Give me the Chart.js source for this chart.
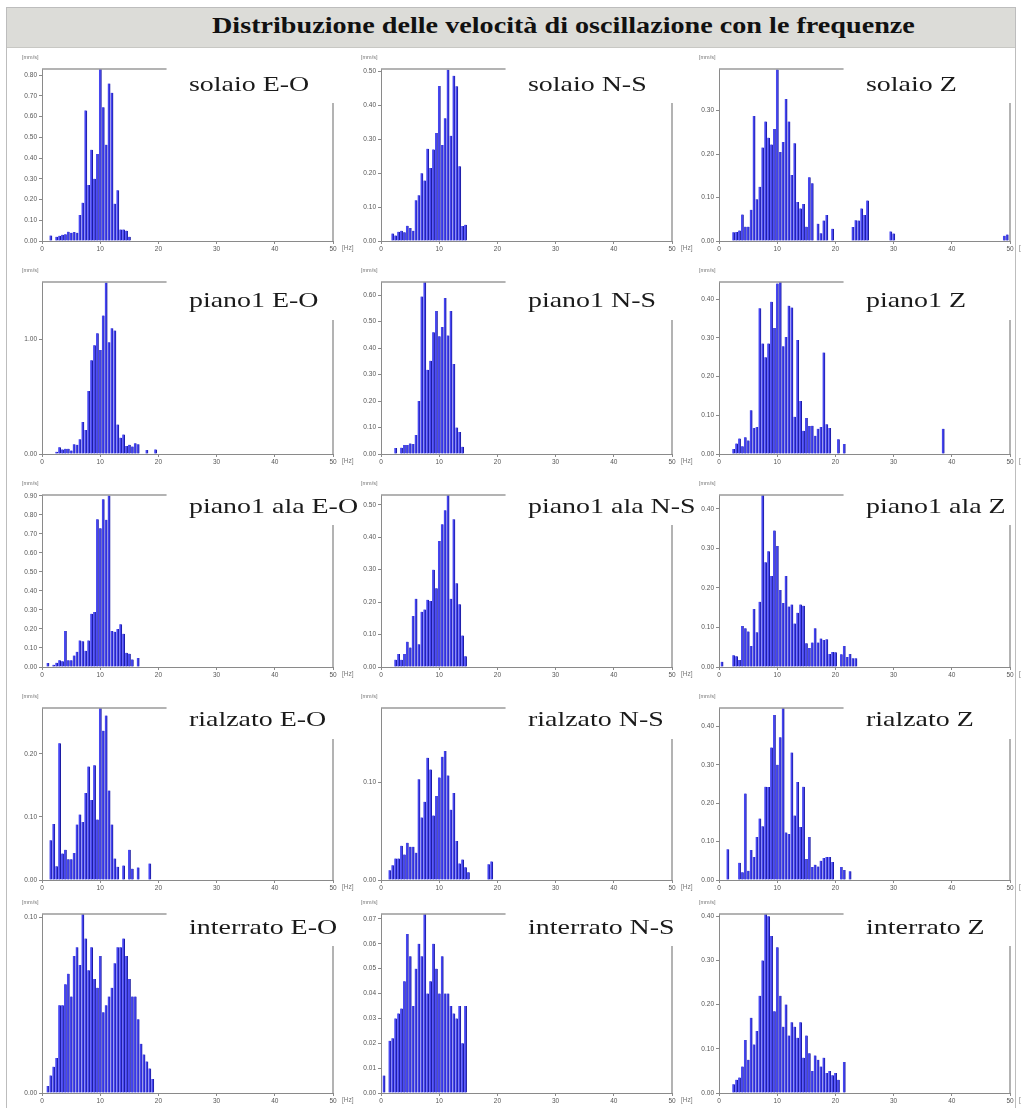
<!DOCTYPE html>
<html lang="it">

<head>
    <meta charset="UTF-8">
    <title>Distribuzione delle velocità di oscillazione con le frequenze</title>
    <script src="https://cdn.jsdelivr.net/npm/chart.js@4.4.1/dist/chart.umd.min.js"></script>
    <style>
        html,
        body {
            margin: 0;
            padding: 0;
            background: #fff;
            overflow: hidden;
        }

        #page {
            position: relative;
            width: 1021px;
            height: 1108px;
            overflow: hidden;
        }

        #frame {
            position: absolute;
            left: 6px;
            top: 7px;
            width: 1008px;
            height: 1120px;
            border: 1px solid #bdbdbd;
        }

        #titlebar {
            position: absolute;
            left: 7px;
            top: 8px;
            width: 1008px;
            height: 39px;
            background: #dcdcd8;
            border-bottom: 1px solid #c8c8c4;
        }

        #title {
            position: absolute;
            left: 212px;
            top: 14px;
            font: bold 23px "Liberation Serif", serif;
            line-height: 23px;
            white-space: nowrap;
            color: #111;
            transform-origin: left top;
        }

        canvas {
            position: absolute;
        }
    </style>
</head>

<body>
    <div id="page">
        <div id="frame"></div>
        <div id="titlebar"></div>
        <div id="title">Distribuzione delle velocità di oscillazione con le frequenze</div>
    </div>
    <script>
        // bins are 0.5 Hz wide; each segment = [first frequency, values...]
        const freqStep = 0.5;

        const solaioEO = [[1.5, [0.026, 0, 0.02, 0.025, 0.03, 0.033, 0.045, 0.04, 0.043, 0.04, 0.125, 0.185, 0.63, 0.27, 0.44, 0.30, 0.42, 0.83, 0.645, 0.465, 0.76, 0.715, 0.18, 0.245, 0.055, 0.055, 0.05, 0.02]]];
        const solaioNS = [[2.0, [0.022, 0.016, 0.027, 0.03, 0.026, 0.045, 0.038, 0.03, 0.12, 0.135, 0.20, 0.178, 0.272, 0.215, 0.27, 0.318, 0.457, 0.283, 0.362, 0.505, 0.31, 0.487, 0.456, 0.22, 0.044, 0.048]]];
        const solaioZ = [
            [2.5, [0.02, 0.021, 0.024, 0.061, 0.033, 0.033, 0.072, 0.288, 0.096, 0.125, 0.215, 0.275, 0.238, 0.222, 0.258, 0.395, 0.205, 0.228, 0.327, 0.275, 0.152, 0.225, 0.09, 0.075, 0.085, 0.033, 0.147, 0.133, 0, 0.04, 0.018, 0.047, 0.06, 0, 0.028]],
            [23.0, [0.032, 0.048, 0.047, 0.075, 0.06, 0.093]],
            [29.5, [0.022, 0.017]],
            [49.0, [0.012, 0.015]]
        ];
        const piano1EO = [[2.5, [0.02, 0.06, 0.04, 0.045, 0.045, 0.03, 0.085, 0.08, 0.13, 0.28, 0.21, 0.55, 0.82, 0.95, 1.055, 0.91, 1.21, 1.50, 0.977, 1.10, 1.08, 0.257, 0.143, 0.17, 0.07, 0.08, 0.065, 0.095, 0.085, 0, 0, 0.035, 0, 0, 0.04]]];
        const piano1NS = [[2.5, [0.023, 0, 0.024, 0.034, 0.034, 0.04, 0.038, 0.072, 0.20, 0.595, 0.65, 0.318, 0.352, 0.46, 0.54, 0.445, 0.48, 0.59, 0.448, 0.54, 0.34, 0.10, 0.083, 0.027]]];
        const piano1Z = [
            [2.5, [0.013, 0.027, 0.04, 0.02, 0.043, 0.035, 0.113, 0.067, 0.07, 0.376, 0.285, 0.25, 0.285, 0.393, 0.325, 0.44, 0.444, 0.278, 0.302, 0.383, 0.378, 0.096, 0.294, 0.137, 0.06, 0.093, 0.072, 0.073, 0.047, 0.065, 0.07, 0.262, 0.077, 0.067, 0, 0, 0.038, 0, 0.026]],
            [38.5, [0.065]]
        ];
        const alaEO = [[1.0, [0.021, 0, 0.012, 0.022, 0.035, 0.03, 0.19, 0.035, 0.035, 0.06, 0.08, 0.14, 0.135, 0.085, 0.14, 0.28, 0.29, 0.778, 0.73, 0.883, 0.775, 0.903, 0.19, 0.185, 0.20, 0.225, 0.175, 0.075, 0.07, 0.04, 0, 0.048]]];
        const alaNS = [[2.5, [0.0225, 0.04, 0.022, 0.04, 0.078, 0.06, 0.157, 0.21, 0.07, 0.17, 0.177, 0.207, 0.203, 0.30, 0.243, 0.388, 0.44, 0.483, 0.53, 0.21, 0.455, 0.258, 0.193, 0.097, 0.033]]];
        const alaZ = [
            [0.5, [0.013]],
            [2.5, [0.03, 0.027, 0.018, 0.104, 0.098, 0.09, 0.053, 0.147, 0.088, 0.165, 0.435, 0.265, 0.293, 0.23, 0.345, 0.306, 0.195, 0.162, 0.23, 0.153, 0.158, 0.11, 0.137, 0.158, 0.155, 0.06, 0.048, 0.062, 0.098, 0.062, 0.072, 0.068, 0.07, 0.033, 0.038, 0.037, 0, 0.032, 0.053, 0.025, 0.033, 0.022, 0.022]]
        ];
        const rialzatoEO = [[1.5, [0.063, 0.089, 0.022, 0.217, 0.042, 0.048, 0.033, 0.033, 0.043, 0.088, 0.104, 0.092, 0.138, 0.18, 0.127, 0.182, 0.096, 0.273, 0.237, 0.261, 0.142, 0.088, 0.034, 0.021, 0, 0.023, 0, 0.048, 0.018, 0, 0.02, 0, 0, 0, 0.026]]];
        const rialzatoNS = [
            [1.5, [0.01, 0.015, 0.022, 0.022, 0.035, 0.026, 0.038, 0.034, 0.034, 0.028, 0.103, 0.064, 0.08, 0.125, 0.113, 0.066, 0.086, 0.105, 0.126, 0.132, 0.107, 0.072, 0.089, 0.04, 0.017, 0.021, 0.013, 0.008]],
            [18.5, [0.016, 0.019]]
        ];
        const rialzatoZ = [
            [1.5, [0.08]],
            [3.5, [0.045, 0.02, 0.225, 0.024, 0.078, 0.06, 0.112, 0.16, 0.14, 0.243, 0.242, 0.345, 0.43, 0.30, 0.372, 0.448, 0.124, 0.12, 0.332, 0.168, 0.255, 0.138, 0.243, 0.055, 0.112, 0.034, 0.04, 0.035, 0.05, 0.057, 0.06, 0.06, 0.047, 0, 0, 0.034, 0.026, 0, 0.023]]
        ];
        const interratoEO = [[1.0, [0.004, 0.01, 0.015, 0.02, 0.05, 0.05, 0.062, 0.068, 0.055, 0.078, 0.083, 0.073, 0.102, 0.088, 0.07, 0.083, 0.065, 0.06, 0.078, 0.046, 0.05, 0.055, 0.06, 0.074, 0.083, 0.083, 0.088, 0.078, 0.065, 0.055, 0.055, 0.042, 0.028, 0.022, 0.018, 0.014, 0.008]]];
        const interratoNS = [[0.5, [0.007, 0, 0.021, 0.022, 0.03, 0.032, 0.034, 0.045, 0.064, 0.055, 0.035, 0.05, 0.06, 0.055, 0.072, 0.04, 0.045, 0.06, 0.05, 0.04, 0.055, 0.04, 0.04, 0.035, 0.032, 0.03, 0.035, 0.02, 0.035]]];
        const interratoZ = [[2.5, [0.02, 0.03, 0.035, 0.06, 0.12, 0.075, 0.17, 0.11, 0.14, 0.22, 0.30, 0.405, 0.40, 0.355, 0.185, 0.33, 0.22, 0.15, 0.20, 0.13, 0.16, 0.15, 0.125, 0.16, 0.08, 0.13, 0.09, 0.05, 0.085, 0.075, 0.06, 0.08, 0.045, 0.05, 0.04, 0.045, 0.03, 0, 0.07]]];

        const panelTitles = [
            'solaio E-O', 'solaio N-S', 'solaio Z',
            'piano1 E-O', 'piano1 N-S', 'piano1 Z',
            'piano1 ala E-O', 'piano1 ala N-S', 'piano1 ala Z',
            'rialzato E-O', 'rialzato N-S', 'rialzato Z',
            'interrato E-O', 'interrato N-S', 'interrato Z'
        ];
        const panelData = [
            solaioEO, solaioNS, solaioZ,
            piano1EO, piano1NS, piano1Z,
            alaEO, alaNS, alaZ,
            rialzatoEO, rialzatoNS, rialzatoZ,
            interratoEO, interratoNS, interratoZ
        ];
        const yMax = [0.83, 0.507, 0.396, 1.504, 0.65, 0.444, 0.905, 0.53, 0.435, 0.273, 0.176, 0.448, 0.102, 0.072, 0.405];
        const yTicks = [
            [0, 0.1, 0.2, 0.3, 0.4, 0.5, 0.6, 0.7, 0.8],
            [0, 0.1, 0.2, 0.3, 0.4, 0.5],
            [0, 0.1, 0.2, 0.3],
            [0, 1],
            [0, 0.1, 0.2, 0.3, 0.4, 0.5, 0.6],
            [0, 0.1, 0.2, 0.3, 0.4],
            [0, 0.1, 0.2, 0.3, 0.4, 0.5, 0.6, 0.7, 0.8, 0.9],
            [0, 0.1, 0.2, 0.3, 0.4, 0.5],
            [0, 0.1, 0.2, 0.3, 0.4],
            [0, 0.1, 0.2],
            [0, 0.1],
            [0, 0.1, 0.2, 0.3, 0.4],
            [0, 0.1],
            [0, 0.01, 0.02, 0.03, 0.04, 0.05, 0.06, 0.07],
            [0, 0.1, 0.2, 0.3, 0.4]
        ];
        const xTicks = [0, 10, 20, 30, 40, 50];

        // layout of the grid (page pixels)
        const colLeft = [42, 381, 719];
        const rowTop = [69, 282, 495, 708, 914];
        const rowBottom = [241, 454, 667, 880, 1093];
        const frameGap = [34, 38, 30, 31, 32];
        const labelBase = [22, 25, 18, 18, 20];
        const plotW = 291;

        // stretch the main title to the width it has in the picture
        const titleEl = document.getElementById('title');
        titleEl.style.transform = 'scaleX(' + (703 / titleEl.offsetWidth) + ')';

        const panelDecor = {
            id: 'panelDecor',
            afterDraw(chart, args, opts) {
                const ctx = chart.ctx;
                const a = chart.chartArea;
                const x = chart.scales.x;
                ctx.save();
                ctx.strokeStyle = '#9a9a9a';
                ctx.lineWidth = 1.5;
                ctx.beginPath();
                ctx.moveTo(a.left, a.top);
                ctx.lineTo(x.getPixelForValue(21.4), a.top);
                ctx.moveTo(a.right, a.top + opts.gap);
                ctx.lineTo(a.right, a.bottom);
                ctx.stroke();

                ctx.fillStyle = '#777';
                ctx.textBaseline = 'middle';
                ctx.font = '5.5px "Liberation Sans"';
                ctx.fillText('[mm/s]', a.left - 20, a.top - 12);
                ctx.font = '6.5px "Liberation Sans"';
                ctx.fillText('[Hz]', a.right + 9, a.bottom + 7.5);

                ctx.fillStyle = '#1a1a1a';
                ctx.textBaseline = 'alphabetic';
                ctx.font = '21px "Liberation Serif"';
                ctx.translate(a.left + 147, a.top + opts.base);
                ctx.scale(1.33, 1);
                ctx.fillText(opts.label, 0, 0);
                ctx.restore();
            }
        };

        const page = document.getElementById('page');

        panelData.forEach(function (segs, i) {
            const row = Math.floor(i / 3);
            const col = i % 3;
            const plotH = rowBottom[row] - rowTop[row];

            const cv = document.createElement('canvas');
            const cw = 370, ch = plotH + 44;
            cv.width = cw;
            cv.height = ch;
            cv.style.left = (colLeft[col] - 40) + 'px';
            cv.style.top = (rowTop[row] - 24) + 'px';
            page.appendChild(cv);

            const points = [];
            segs.forEach(function (s) {
                s[1].forEach(function (v, k) {
                    if (v > 0) points.push({ x: s[0] + k * freqStep, y: v });
                });
            });

            new Chart(cv.getContext('2d'), {
                type: 'bar',
                data: {
                    datasets: [{
                        data: points,
                        backgroundColor: '#4646f2',
                        borderColor: '#1b1ba0',
                        borderWidth: { left: 0, right: 1, top: 0, bottom: 0 },
                        borderSkipped: false,
                        barThickness: 2.5
                    }]
                },
                options: {
                    responsive: false,
                    animation: false,
                    events: [],
                    layout: { padding: { left: 0, top: 24, right: cw - 40 - plotW, bottom: 5 } },
                    plugins: {
                        legend: { display: false },
                        tooltip: { enabled: false },
                        panelDecor: { label: panelTitles[i], gap: frameGap[row], base: labelBase[row] }
                    },
                    scales: {
                        x: {
                            type: 'linear',
                            min: 0,
                            max: 50,
                            offset: false,
                            afterBuildTicks: function (ax) { ax.ticks = xTicks.map(v => ({ value: v })); },
                            afterFit: function (ax) { ax.height = 15; },
                            ticks: { color: '#555', font: { size: 6.5, family: 'Liberation Sans' }, padding: 1, maxRotation: 0 },
                            grid: { display: true, offset: false, drawOnChartArea: false, tickLength: 3, color: '#8a8a8a' },
                            border: { color: '#8a8a8a' }
                        },
                        y: {
                            min: 0,
                            max: yMax[i],
                            afterBuildTicks: function (ax) { ax.ticks = yTicks[i].map(v => ({ value: v })); },
                            afterFit: function (ax) { ax.width = 40; },
                            ticks: {
                                color: '#555',
                                font: { size: 6.5, family: 'Liberation Sans' },
                                padding: 2,
                                callback: v => v.toFixed(2)
                            },
                            grid: { display: true, drawOnChartArea: false, tickLength: 3, color: '#8a8a8a' },
                            border: { color: '#8a8a8a' }
                        }
                    }
                },
                plugins: [panelDecor]
            });
        });
    </script>
</body>

</html>
